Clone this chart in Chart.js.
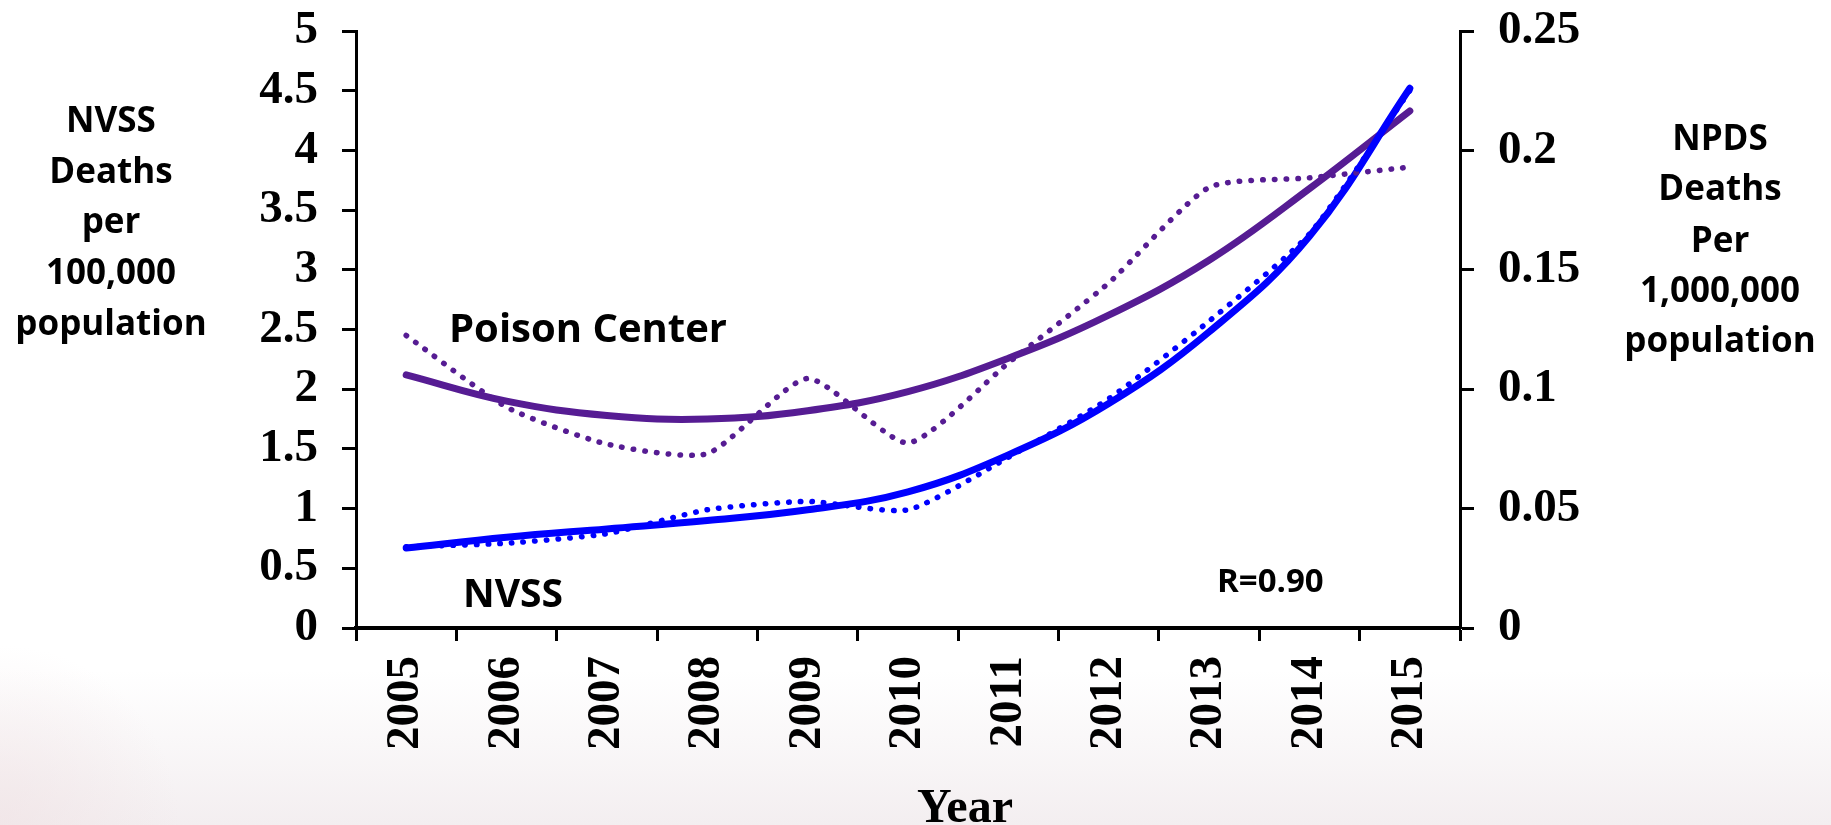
<!DOCTYPE html>
<html><head><meta charset="utf-8">
<script src="https://cdn.jsdelivr.net/npm/chart.js@4"></script>
<style>html,body{margin:0;padding:0;background:#fff;overflow:hidden}#wrap{width:1831px;height:825px;position:relative}</style>
</head><body><div id="wrap"><canvas id="c" width="1831" height="825"></canvas></div>
<script>
const years = ['2005','2006','2007','2008','2009','2010','2011','2012','2013','2014','2015'];
// NVSS deaths per 100,000 (left axis)
const nvssData  = [0.68, 0.71, 0.79, 0.99, 1.06, 0.99, 1.43, 1.92, 2.57, 3.30, 4.50];
const nvssTrend = [0.67, 0.76, 0.83, 0.90, 0.99, 1.14, 1.45, 1.88, 2.48, 3.28, 4.52];
// NPDS (Poison Center) deaths per 1,000,000 (right axis)
const poisonData  = [0.1225, 0.0925, 0.077, 0.073, 0.1045, 0.0775, 0.111, 0.1445, 0.1845, 0.1885, 0.193];
const poisonTrend = [0.106, 0.095, 0.089, 0.0875, 0.091, 0.099, 0.113, 0.131, 0.154, 0.184, 0.2165];
const leftTickLabels  = ['0','0.5','1','1.5','2','2.5','3','3.5','4','4.5','5'];
const rightTickLabels = ['0','0.05','0.1','0.15','0.2','0.25'];
const leftTitle  = ['NVSS','Deaths','per','100,000','population'];
const rightTitle = ['NPDS','Deaths','Per','1,000,000','population'];

const BLUE = '#0000FF';
const PURPLE = '#561C93';
const serif = "'Liberation Serif','Times New Roman',serif";
const sans = "'Open Sans','Noto Sans',sans-serif";

const deco = {
  id: 'deco',
  beforeDraw(chart) {
    const ctx = chart.ctx, w = chart.width, h = chart.height;
    ctx.save();
    ctx.fillStyle = '#ffffff';
    ctx.fillRect(0, 0, w, h);
    const g = ctx.createLinearGradient(0, 670, 0, h);
    g.addColorStop(0, 'rgba(243,239,241,0)');
    g.addColorStop(1, 'rgba(243,238,240,1)');
    ctx.fillStyle = g;
    ctx.fillRect(0, 670, w, h - 670);
    const g2 = ctx.createRadialGradient(0, h, 10, 0, h, 180);
    g2.addColorStop(0, 'rgba(240,226,228,0.6)');
    g2.addColorStop(1, 'rgba(240,226,228,0)');
    ctx.fillStyle = g2;
    ctx.fillRect(0, 640, 200, h - 640);
    ctx.restore();
  },
  afterDraw(chart) {
    const ctx = chart.ctx;
    ctx.save();
    ctx.fillStyle = '#000';
    ctx.textAlign = 'center';
    ctx.textBaseline = 'alphabetic';
    ctx.font = 'bold 35px ' + sans;
    const lb = [132, 183, 233, 284, 335];
    leftTitle.forEach((t, i) => ctx.fillText(t, 111, lb[i]));
    const rb = [150, 200, 252, 302, 352];
    rightTitle.forEach((t, i) => ctx.fillText(t, 1720, rb[i]));
    ctx.font = 'bold 48px ' + serif;
    ctx.fillText('Year', 965, 822);
    ctx.textAlign = 'left';
    ctx.font = 'bold 40px ' + sans;
    ctx.fillText('Poison Center', 449, 342);
    ctx.font = 'bold 39px ' + sans;
    ctx.fillText('NVSS', 463, 607);
    ctx.font = 'bold 33px ' + sans;
    ctx.fillText('R=0.90', 1217, 592);
    ctx.restore();
  }
};

function fitY(width) {
  return function (s) { s.width = width; s.paddingTop = 0; s.paddingBottom = 0; };
}

new Chart(document.getElementById('c'), {
  type: 'line',
  data: {
    labels: years,
    datasets: [
      { label: 'NVSS data', data: nvssData, yAxisID: 'y', borderColor: BLUE, borderWidth: 5.5,
        borderDash: [0.5, 11.2], borderCapStyle: 'round', tension: 0.2, pointRadius: 0, fill: false },
      { label: 'Poison Center data', data: poisonData, yAxisID: 'y1', borderColor: PURPLE, borderWidth: 5.5,
        borderDash: [0.5, 11.2], borderCapStyle: 'round', tension: 0.2, pointRadius: 0, fill: false },
      { label: 'NVSS trend', data: nvssTrend, yAxisID: 'y', borderColor: BLUE, borderWidth: 7,
        borderCapStyle: 'round', tension: 0.4, pointRadius: 0, fill: false },
      { label: 'Poison Center trend', data: poisonTrend, yAxisID: 'y1', borderColor: PURPLE, borderWidth: 7,
        borderCapStyle: 'round', tension: 0.4, pointRadius: 0, fill: false }
    ]
  },
  options: {
    responsive: false, animation: false, devicePixelRatio: 1,
    layout: { padding: { top: 31, left: 0, right: 0, bottom: 0 } },
    plugins: { legend: { display: false }, tooltip: { enabled: false } },
    scales: {
      x: {
        offset: true,
        grid: { offset: true, drawOnChartArea: false, drawTicks: true, tickLength: 13, tickWidth: 3, color: '#000' },
        border: { display: true, color: '#000', width: 4 },
        ticks: { color: '#000', font: { family: serif, weight: 'bold', size: 47 }, maxRotation: 90, minRotation: 90,
                 autoSkip: false, padding: 15 },
        afterFit(s) { s.height = 197; s.paddingLeft = 0; s.paddingRight = 0; }
      },
      y: {
        position: 'left', min: 0, max: 5,
        grid: { drawOnChartArea: false, drawTicks: true, tickLength: 14, tickWidth: 3, color: '#000' },
        border: { display: true, color: '#000', width: 3 },
        ticks: { stepSize: 0.5, autoSkip: false, color: '#000', padding: 24,
                 font: { family: serif, weight: 'bold', size: 47 },
                 callback: (v, i) => leftTickLabels[i] },
        afterFit: fitY(356)
      },
      y1: {
        position: 'right', min: 0, max: 0.25,
        grid: { drawOnChartArea: false, drawTicks: true, tickLength: 14, tickWidth: 3, color: '#000' },
        border: { display: true, color: '#000', width: 3 },
        ticks: { stepSize: 0.05, autoSkip: false, color: '#000', padding: 24,
                 font: { family: serif, weight: 'bold', size: 47 },
                 callback: (v, i) => rightTickLabels[i] },
        afterFit: fitY(371)
      }
    }
  },
  plugins: [deco]
});
</script></body></html>
